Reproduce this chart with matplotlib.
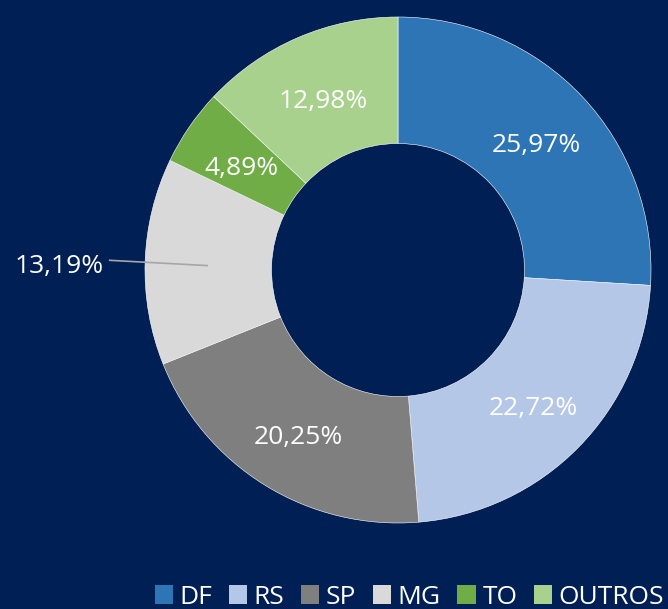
import matplotlib.pyplot as plt
from matplotlib.patches import Patch
import numpy as np

plt.rcParams['font.family'] = ['Open Sans', 'DejaVu Sans']

estados = ['DF', 'RS', 'SP', 'MG', 'TO', 'OUTROS']
valores = [25.97, 22.72, 20.25, 13.19, 4.89, 12.98]
cores = ['#2e75b6', '#b4c7e7', '#7f7f7f', '#d9d9d9', '#70ad47', '#a9d18e']
fundo = '#001f54'

fig = plt.figure(figsize=(6.68, 6.09), dpi=100, facecolor=fundo)
ax = fig.add_axes([0, 0, 1, 1])
ax.set_facecolor(fundo)

# pizza centrada em (398, 270) px, raio 253 px
R = 253
cx, cy = 398, 609 - 270
wedges, _ = ax.pie(valores, colors=cores, startangle=90, counterclock=False,
                   radius=R, center=(cx, cy),
                   wedgeprops=dict(width=R * 0.5, edgecolor='white', linewidth=0.4))
ax.set_xlim(0, 668)
ax.set_ylim(0, 609)
ax.set_aspect('equal')
ax.axis('off')

dy = -6  # ajuste vertical dos rótulos
for w, v in zip(wedges, valores):
    ang = np.deg2rad((w.theta1 + w.theta2) / 2)
    txt = f"{v:.2f}".replace('.', ',') + '%'
    if v == 13.19:
        x0, y0 = cx + 0.755 * R * np.cos(ang), cy + 0.755 * R * np.sin(ang)
        x1, y1 = cx + 1.14 * R * np.cos(ang), cy + 1.14 * R * np.sin(ang)
        ax.plot([x0, x1], [y0 - 2, y1], color='#a6a6a6', lw=1.2)
        ax.text(x1 - 6, y1 + dy, txt, ha='right', va='center', color='white', fontsize=19)
    else:
        r = 0.75 * R
        ax.text(cx + r * np.cos(ang), cy + r * np.sin(ang) + dy, txt, ha='center', va='center',
                color='white', fontsize=19)

handles = [Patch(facecolor=c, edgecolor='none') for c in cores]
leg = fig.legend(handles, estados, loc='lower right', bbox_to_anchor=(1.03, -0.04), ncol=6,
                 frameon=False, fontsize=19, handlelength=0.7, handleheight=0.7,
                 handletextpad=0.25, columnspacing=0.62, labelcolor='white')

fig.savefig('out.png', dpi=100, facecolor=fundo)
